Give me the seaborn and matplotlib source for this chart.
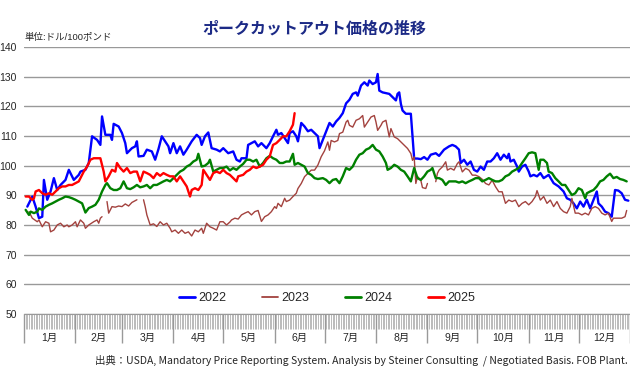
import numpy as np
import pandas as pd
import matplotlib
matplotlib.use('Agg')
import matplotlib.pyplot as plt
from matplotlib.lines import Line2D
import seaborn as sns

sns.set_style('white')
plt.rcParams['font.family'] = ['Liberation Sans', 'Noto Sans CJK JP']

months = ['1月', '2月', '3月', '4月', '5月', '6月', '7月', '8月', '9月', '10月', '11月', '12月']
month_days = [31, 28, 31, 30, 31, 30, 31, 31, 30, 31, 30, 31]
years = ['2022', '2023', '2024', '2025']
colors = ['#0000ff', '#a3423e', '#008000', '#ff0000']
widths = [1.7, 1.0, 1.7, 1.7]

# 日付は1月1日からの経過日数
d2022 = [2, 5, 7, 9, 11, 12, 14, 16, 18, 20, 22, 25, 27, 30, 33, 34, 37, 39, 40, 41, 44, 46, 47, 49, 52, 53, 54, 57, 59,
         61, 62, 65, 67, 68, 69, 72, 74, 77, 79, 81, 83, 85, 87, 88, 90, 92, 94, 96, 98, 101, 104, 106, 107, 109, 111,
         113, 116, 118, 120, 123, 126, 128, 130, 131, 134, 135, 137, 139, 141, 143, 146, 148, 150, 152, 153, 155, 157,
         159, 160, 162, 164, 165, 167, 169, 171, 173, 175, 177, 178, 180, 182, 184, 186, 188, 190, 192, 194, 196, 198,
         200, 201, 203, 205, 207, 208, 210, 212, 213, 214, 216, 220, 222, 224, 225, 226, 227, 228, 230, 232, 233, 234,
         235, 237, 239, 241, 243, 245, 248, 250, 253, 256, 258, 260, 262, 263, 265, 267, 269, 271, 273, 275, 277, 279,
         281, 283, 285, 287, 289, 291, 292, 293, 295, 297, 298, 300, 302, 304, 305, 307, 309, 311, 313, 316, 319, 322,
         325, 327, 329, 331, 333, 335, 337, 339, 341, 343, 345, 346, 348, 350, 352, 354, 356, 358, 360, 362, 364]
p2022 = [86.2, 89.6, 86.2, 82.3, 82.8, 95.2, 88.5, 91.3, 95.8, 91.8, 93.5, 95.2, 98.6, 95.2, 96.9, 98.0, 98.6, 100.9,
         105.4, 109.9, 108.7, 107.0, 116.6, 110.4, 110.4, 108.7, 114.1, 113.2, 111.0, 107.6, 104.2, 105.9, 106.5, 108.2,
         103.1, 103.3, 105.4, 104.8, 102.0, 105.6, 109.9, 108.2, 106.5, 104.2, 107.6, 104.2, 106.5, 103.7, 105.4, 108.2,
         110.4, 109.3, 107.0, 109.9, 111.2, 105.9, 105.4, 104.8, 105.9, 104.2, 104.8, 102.0, 101.4, 102.5, 102.5, 107.0,
         107.6, 108.2, 106.5, 107.6, 105.9, 107.6, 109.9, 112.1, 110.4, 111.0, 109.3, 107.6, 111.0, 111.6, 109.9, 108.2,
         114.4, 113.2, 111.6, 112.1, 111.0, 109.9, 105.9, 108.7, 111.6, 114.4, 113.2, 114.9, 116.1, 117.7, 121.0, 122.2,
         124.2, 124.7, 123.6, 127.0, 128.1, 127.0, 128.7, 127.5, 128.1, 130.9, 125.3, 124.7, 124.2, 123.1, 122.0, 124.2,
         124.7, 120.8, 118.6, 117.5, 117.5, 117.5, 109.7, 102.4, 102.4, 102.2, 102.9, 102.0, 103.7, 104.2, 103.3, 105.4,
         106.5, 107.0, 106.5, 105.4, 100.9, 102.0, 100.3, 101.4, 98.6, 98.0, 99.7, 98.6, 101.4, 101.4, 102.5, 104.2,
         102.0, 103.7, 102.5, 104.0, 101.4, 102.0, 99.7, 98.0, 99.7, 100.3, 98.0, 96.4, 96.9, 96.4, 97.5, 95.8, 96.9,
         94.1, 93.0, 91.3, 89.0, 88.5, 87.3, 85.6, 87.9, 86.2, 88.5, 85.6, 88.5, 91.3, 87.3, 86.2, 84.5, 84.0, 82.8,
         91.8, 91.6, 90.7, 88.5, 88.2]

# 2023 は欠測あり (nan で区切り)
d2023 = [3, 5, 8, 9, 11, 13, 15, 16, 18, 20, 22, 24, 26, 27, 29, 31, 32, 34, 36, 37, 39, 42, 44, 45, 46, 47, np.nan,
         50, 51, 53, 55, 57, 59, 61, 63, 65, 67, 68, np.nan,
         72, 73, 74, 75, 76, 78, 80, 82, 84, 86, 88, 89, 91, 93, 95, 97, 99, 101, 103, 105, 107, 108, 110, 112, 114,
         116, 118, 120, 122, 124, 125, 127, 129, 131, 133, 135, 137, 139, 141, 143, 145, 147, 149, 151, 152, 153, 155,
         157, 158, 160, 162, 164, 165, 167, 169, 171, 173, 175, 177, 179, 181, 183, 184, 185, 187, 189, 190, 192, 194,
         195, 196, 198, 200, 202, 204, 205, 207, 209, 211, 212, 213, 215, 216, 218, 220, 221, 223, 225, 227, 229, 231,
         233, 234, 235, 236, 237, 239, 240, 242, 243, np.nan,
         248, 249, 250, 252, 254, 255, 257, 259, 261, 262, 264, 266, 268, 270, 272, 274, 276, 278, 280, 282, 284, 286,
         288, 290, 292, 294, 296, 298, 300, 302, 304, 306, 308, 309, 311, 313, 315, 317, 319, 321, 323, 325, 327, 329,
         330, 332, 334, 336, 338, 340, 342, 344, 346, 348, 350, 352, 354, 355, 358, 360, 362, 363]
p2023 = [84.5, 82.3, 81.1, 81.7, 79.4, 81.1, 80.6, 77.7, 78.3, 80.0, 80.6, 79.4, 80.0, 79.4, 80.0, 81.1, 79.4, 81.7,
         80.6, 78.9, 80.0, 81.1, 81.7, 80.6, 82.3, 82.8, np.nan,
         87.9, 84.0, 86.2, 86.0, 86.4, 86.2, 87.1, 86.4, 87.6, 88.2, 88.5, np.nan,
         88.5, 86.2, 83.4, 81.7, 80.0, 80.4, 79.5, 81.1, 80.0, 80.6, 78.9, 77.7, 78.3, 77.2, 78.3, 77.2, 77.7, 76.3,
         78.3, 77.7, 78.9, 77.2, 80.6, 79.4, 78.9, 78.3, 81.1, 81.1, 80.0, 81.0, 81.7, 82.3, 82.0, 83.4, 84.0, 84.5,
         83.4, 84.5, 84.9, 81.2, 82.8, 83.4, 84.5, 86.2, 85.6, 87.3, 86.2, 89.0, 87.9, 88.4, 89.6, 90.7, 92.3, 94.0,
         96.3, 97.4, 98.5, 98.5, 100.2, 103.0, 105.0, 108.0, 105.2, 108.5, 108.0, 108.5, 110.8, 111.3, 114.7, 115.3,
         113.6, 113.0, 115.3, 115.8, 116.9, 113.0, 114.7, 116.4, 116.9, 114.7, 111.9, 113.6, 114.7, 115.3, 109.7,
         112.5, 109.7, 109.1, 108.0, 106.9, 105.8, 104.1, 101.8, 103.0, 94.0, 96.3, 95.1, 92.6, 92.3, 94.0, np.nan,
         94.6, 97.4, 98.5, 99.6, 101.3, 98.5, 99.1, 98.5, 100.7, 101.3, 97.9, 99.1, 98.5, 96.8, 96.8, 96.3, 95.4, 94.0,
         93.5, 95.1, 92.9, 91.2, 91.2, 87.3, 88.4, 87.9, 88.4, 86.2, 87.3, 87.9, 86.8, 87.9, 89.6, 91.6, 88.4, 89.6,
         87.3, 88.4, 86.2, 87.9, 85.6, 84.5, 84.0, 86.2, 89.0, 84.0, 84.0, 83.4, 84.0, 83.4, 85.6, 86.2, 85.6, 84.0,
         83.4, 84.0, 81.2, 82.3, 82.3, 82.3, 82.8, 84.9]

d2024 = [1, 3, 4, 6, 8, 9, 11, 13, 15, 17, 19, 21, 23, 25, 27, 29, 31, 33, 35, 37, 39, 41, 43, 45, 47, 49, 50, 52, 54,
         56, 58, 60, 62, 64, 66, 68, 70, 72, 74, 76, 78, 80, 82, 84, 86, 88, 90, 92, 94, 96, 98, 100, 102, 104, 105,
         107, 109, 111, 112, 114, 116, 118, 120, 122, 124, 126, 128, 130, 132, 134, 136, 138, 140, 142, 144, 146, 148,
         150, 152, 154, 156, 158, 160, 162, 163, 165, 167, 169, 171, 173, 175, 177, 180, 182, 184, 186, 188, 190, 192,
         194, 196, 198, 200, 202, 204, 206, 208, 210, 212, 214, 216, 218, 219, 221, 223, 225, 227, 229, 231, 233, 235,
         237, 239, 241, 243, 245, 246, 248, 250, 252, 254, 256, 258, 260, 262, 264, 266, 268, 270, 272, 274, 276, 278,
         280, 282, 284, 286, 288, 290, 292, 294, 296, 298, 300, 302, 304, 306, 308, 310, 311, 313, 315, 316, 318, 320,
         322, 324, 326, 328, 330, 332, 334, 336, 338, 339, 341, 343, 345, 347, 349, 351, 353, 355, 357, 359, 361, 363]
p2024 = [85.1, 83.4, 84.5, 84.0, 84.5, 85.6, 85.1, 86.2, 86.8, 87.3, 87.9, 88.5, 89.0, 89.6, 89.4, 89.0, 88.5, 87.9,
         87.3, 84.2, 85.7, 86.2, 86.8, 88.5, 91.3, 93.5, 94.1, 92.4, 91.8, 91.8, 92.4, 94.7, 92.4, 92.1, 92.7, 93.5,
         92.7, 93.0, 93.5, 92.4, 93.5, 93.5, 94.1, 94.7, 95.2, 94.7, 95.8, 96.9, 98.0, 98.6, 99.7, 100.3, 101.4, 102.0,
         104.0, 99.7, 100.0, 100.9, 102.0, 98.0, 98.6, 99.2, 99.2, 99.7, 98.4, 99.2, 98.6, 99.7, 100.6, 102.0, 102.0,
         101.4, 102.0, 99.7, 100.9, 102.5, 103.3, 102.5, 102.0, 100.9, 100.9, 101.4, 101.4, 104.0, 100.3, 100.9, 100.3,
         99.7, 97.5, 96.9, 95.8, 95.5, 95.8, 95.2, 94.1, 95.2, 95.5, 94.1, 96.4, 99.2, 98.6, 99.7, 102.0, 103.7, 104.2,
         105.4, 105.9, 107.0, 105.4, 104.8, 103.1, 100.9, 98.6, 99.2, 100.3, 99.7, 98.6, 98.0, 96.4, 94.7, 99.2, 95.8,
         95.2, 96.4, 98.0, 98.6, 99.2, 95.8, 95.8, 95.2, 93.5, 94.7, 94.7, 94.7, 94.3, 94.7, 94.1, 94.7, 95.2, 95.8,
         95.8, 94.7, 95.2, 95.8, 95.2, 94.7, 94.7, 95.2, 96.4, 96.9, 98.0, 98.6, 99.2, 100.9, 102.5, 104.2, 104.5,
         104.2, 98.6, 102.0, 102.0, 100.9, 98.0, 97.5, 95.8, 94.7, 93.5, 93.5, 91.8, 90.1, 90.7, 92.4, 91.8, 89.0,
         90.7, 91.3, 91.8, 93.0, 94.7, 95.2, 96.4, 97.3, 95.8, 96.2, 95.5, 95.2, 94.7]

d2025 = [1, 3, 4, 5, 6, 7, 9, 11, 13, 15, 17, 19, 21, 23, 25, 27, 29, 31, 33, 34, 36, 38, 40, 42, 44, 46, 48, 49, 51,
         53, 55, 56, 58, 60, 62, 64, 66, 68, 70, 72, 74, 76, 78, 80, 82, 84, 86, 88, 90, 92, 94, 96, 98, 100, 101, 103,
         105, 107, 108, 110, 112, 114, 116, 118, 120, 122, 124, 126, 128, 129, 132, 134, 136, 138, 140, 142, 144, 146,
         148, 150, 152, 154, 156, 158, 160, 162, 163]
p2025 = [89.6, 89.6, 89.0, 88.5, 89.0, 91.3, 91.8, 90.7, 90.2, 90.7, 90.2, 91.3, 92.4, 93.0, 93.0, 93.5, 93.5, 94.1,
         94.7, 95.8, 98.0, 99.7, 102.0, 102.5, 102.5, 102.5, 98.0, 94.7, 96.4, 98.6, 98.0, 100.9, 99.2, 98.0, 99.2,
         97.5, 98.0, 98.0, 94.7, 98.0, 97.5, 96.9, 95.8, 97.5, 96.6, 97.5, 96.9, 96.4, 96.4, 94.7, 96.4, 94.7, 93.0,
         89.6, 91.8, 92.4, 91.8, 93.5, 98.6, 96.9, 95.2, 97.5, 98.0, 97.5, 98.6, 97.5, 96.9, 95.8, 94.7, 96.4, 96.9,
         98.0, 98.6, 99.7, 99.2, 99.7, 100.3, 102.0, 103.1, 107.0, 107.6, 108.7, 109.9, 109.9, 111.6, 113.8, 117.7]

fig = plt.figure(figsize=(6.3, 3.88), dpi=100)
ax = fig.add_axes([24 / 630, 1 - 314 / 388, 606 / 630, 267 / 388])

for yr, d, p, c, w in zip(years, [d2022, d2023, d2024, d2025], [p2022, p2023, p2024, p2025], colors, widths):
    df = pd.DataFrame({'day': d, 'price': p})
    df['seg'] = df['price'].isna().cumsum()
    df = df.dropna()
    sns.lineplot(data=df, x='day', y='price', units='seg', estimator=None, sort=False,
                 color=c, lw=w, ax=ax)

ax.set_xlabel('')
ax.set_ylabel('')
ax.set_xlim(0, 365)
ax.set_ylim(50, 140)
ax.set_yticks(range(50, 141, 10))
ax.yaxis.grid(True, color='#999999', lw=1.0)
ax.xaxis.grid(False)
ax.set_axisbelow(True)
for s in ['left', 'right', 'top']:
    ax.spines[s].set_visible(False)
ax.spines['bottom'].set_color('#999999')
ax.tick_params(axis='y', length=0, pad=5, labelsize=7.5)

# 月の区切りと日ごとの目盛
bounds = np.cumsum([0] + month_days)
ax.set_xticks(bounds)
ax.set_xticklabels([])
ax.set_xticks(np.arange(0, 366), minor=True)
ax.tick_params(axis='x', which='major', bottom=True, length=21, width=1, color='#999999', direction='out')
ax.tick_params(axis='x', which='minor', bottom=True, length=10.5, width=0.6, color='#b0b0b0', direction='out')
mids = bounds[:-1] + np.array(month_days) / 2
for m, lab in zip(mids, months):
    ax.text(m, -0.09, lab, transform=ax.get_xaxis_transform(), ha='center', va='center', fontsize=7.5)

handles = [Line2D([0], [0], color=c, lw=w + 0.3) for c, w in zip(colors, widths)]
ax.legend(handles, years, loc='center', bbox_to_anchor=(0.5, 0.06), ncol=4, frameon=False,
          fontsize=9, handlelength=1.3, columnspacing=2.8, handletextpad=0.3)

fig.text(314 / 630, 1 - 28.5 / 388, 'ポークカットアウト価格の推移', ha='center', va='center',
         fontsize=11.5, fontweight='bold', color='#1c2a86', family='Noto Sans CJK JP')
fig.text(24 / 630, 1 - 37.5 / 388, '単位:ドル/100ポンド', ha='left', va='center', fontsize=6.8)
fig.text(628 / 630, 1 - 360 / 388,
         '出典：USDA, Mandatory Price Reporting System. Analysis by Steiner Consulting  / Negotiated Basis. FOB Plant.',
         ha='right', va='center', fontsize=7.5, family='Noto Sans CJK JP')

fig.savefig('out.png', dpi=100)
